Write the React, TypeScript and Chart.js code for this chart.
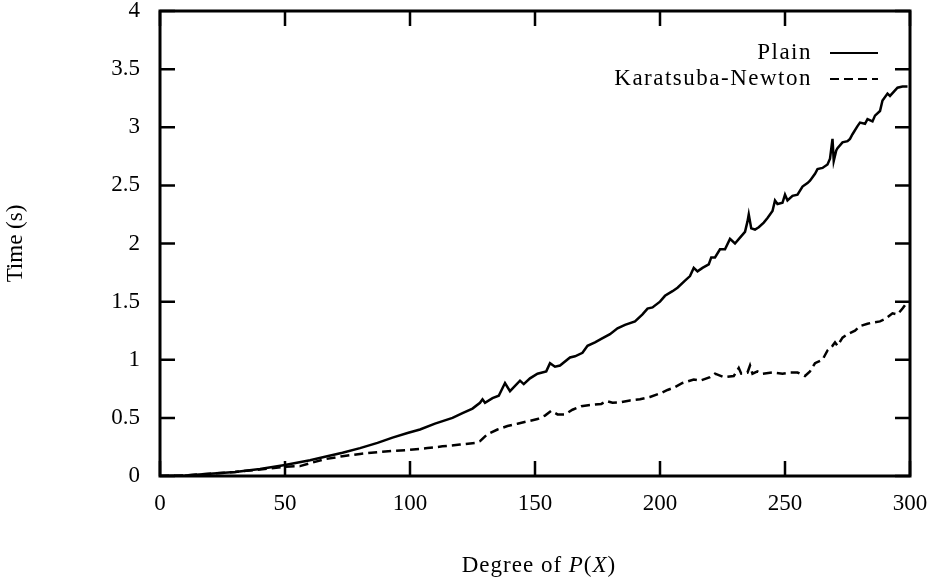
import React, { useEffect, useRef } from "react";
import { Chart, registerables } from "chart.js";

Chart.register(...registerables);

const plainDegree = [0, 10, 20, 30, 40, 50, 60, 66, 73, 80, 87, 93, 99, 104, 110, 117, 121, 125, 128, 129, 130, 133, 135.5, 138, 140, 144, 145.5, 148, 151, 154.5, 156, 158, 160, 164, 166, 169, 171, 174, 176.5, 180, 183, 186, 190, 193, 195, 197, 200, 202, 205, 207, 210, 212, 213.5, 215, 217, 219.5, 220.5, 222, 224, 226, 228, 230, 232, 234, 235, 235.5, 236.5, 238, 239.5, 241.5, 243, 245, 246, 247, 249, 250, 251, 253, 255, 257, 259, 260, 262, 263, 265, 267, 268, 269, 269.5, 270.5, 271, 273, 275, 276, 277, 279, 280, 282, 283, 285, 286, 288, 289, 291, 292, 295, 297, 299];
const plainTime = [0, 0.005, 0.02, 0.035, 0.06, 0.095, 0.135, 0.165, 0.2, 0.24, 0.285, 0.33, 0.37, 0.4, 0.45, 0.5, 0.54, 0.58, 0.63, 0.66, 0.63, 0.67, 0.69, 0.8, 0.73, 0.82, 0.79, 0.84, 0.88, 0.9, 0.97, 0.94, 0.95, 1.02, 1.03, 1.06, 1.12, 1.15, 1.18, 1.22, 1.27, 1.3, 1.33, 1.39, 1.44, 1.45, 1.5, 1.55, 1.59, 1.62, 1.68, 1.72, 1.79, 1.76, 1.79, 1.82, 1.88, 1.88, 1.95, 1.95, 2.04, 2.0, 2.05, 2.1, 2.19, 2.25, 2.13, 2.12, 2.14, 2.18, 2.22, 2.28, 2.37, 2.34, 2.35, 2.42, 2.37, 2.41, 2.42, 2.49, 2.52, 2.54, 2.6, 2.64, 2.65, 2.68, 2.73, 2.9, 2.71, 2.8, 2.82, 2.87, 2.88, 2.9, 2.94, 3.01, 3.04, 3.03, 3.07, 3.05, 3.1, 3.14, 3.23, 3.29, 3.27, 3.34, 3.35, 3.35];

const karatsubaDegree = [0, 10, 20, 30, 40, 50, 56, 60, 66, 73, 80, 87, 93, 100, 107, 113, 120, 126, 128, 131, 135, 139, 143, 147, 151, 154, 156.5, 159, 162, 165, 168.5, 172, 176.5, 178.7, 181, 184.5, 188, 192, 196, 200, 203, 205.6, 209, 213.5, 216, 220, 222, 225.5, 229.5, 231.5, 232.5, 235, 236, 237, 239, 241, 245, 249, 252, 255, 258, 260, 262, 265, 267, 269, 270, 271, 273, 275, 278, 280, 283, 285, 288, 290, 293, 295, 297, 299];
const karatsubaTime = [0, 0.005, 0.02, 0.035, 0.055, 0.08, 0.085, 0.11, 0.145, 0.17, 0.19, 0.205, 0.215, 0.225, 0.24, 0.255, 0.27, 0.285, 0.3, 0.36, 0.4, 0.43, 0.45, 0.47, 0.49, 0.52, 0.56, 0.53, 0.53, 0.57, 0.6, 0.61, 0.62, 0.645, 0.63, 0.635, 0.65, 0.66, 0.68, 0.71, 0.74, 0.76, 0.8, 0.83, 0.82, 0.85, 0.88, 0.85, 0.86, 0.93, 0.88, 0.89, 0.95, 0.88, 0.9, 0.88, 0.89, 0.88, 0.89, 0.89, 0.86, 0.9, 0.97, 1.0, 1.08, 1.12, 1.15, 1.12, 1.19, 1.22, 1.25, 1.29, 1.31, 1.32, 1.33, 1.35, 1.4, 1.39, 1.44, 1.5];

const xTicks = [0, 50, 100, 150, 200, 250, 300];
const xTickLabels = ["0", "50", "100", "150", "200", "250", "300"];
const yTicks = [0, 0.5, 1, 1.5, 2, 2.5, 3, 3.5, 4];
const yTickLabels = ["0", "0.5", "1", "1.5", "2", "2.5", "3", "3.5", "4"];
const seriesLabels = ["Plain", "Karatsuba-Newton"];
const yTitle = "Time (s)";
const xTitleParts = [
  { text: "Degree of ", italic: false },
  { text: "P", italic: true },
  { text: "(", italic: false },
  { text: "X", italic: true },
  { text: ")", italic: false },
];

const FONT = "'Liberation Serif', 'Times New Roman', serif";

const framePlugin = {
  id: "gnuFrame",
  afterDatasetsDraw(chart: any) {
    const { ctx, scales } = chart;
    const x = scales.x;
    const y = scales.y;
    const l = x.getPixelForValue(xTicks[0]);
    const r = x.getPixelForValue(xTicks[xTicks.length - 1]);
    const t = y.getPixelForValue(yTicks[yTicks.length - 1]);
    const b = y.getPixelForValue(yTicks[0]);
    ctx.save();
    ctx.strokeStyle = "#000";
    ctx.lineWidth = 3;
    ctx.setLineDash([]);
    ctx.strokeRect(l, t, r - l, b - t);
    ctx.lineWidth = 2.5;
    ctx.beginPath();
    for (const v of xTicks) {
      const px = x.getPixelForValue(v);
      ctx.moveTo(px, b);
      ctx.lineTo(px, b - 15);
      ctx.moveTo(px, t);
      ctx.lineTo(px, t + 15);
    }
    for (const v of yTicks) {
      const py = y.getPixelForValue(v);
      ctx.moveTo(l, py);
      ctx.lineTo(l + 15, py);
      ctx.moveTo(r, py);
      ctx.lineTo(r - 15, py);
    }
    ctx.stroke();

    // legend
    ctx.fillStyle = "#000";
    ctx.font = `23px ${FONT}`;
    (ctx as any).letterSpacing = "1.5px";
    ctx.textAlign = "right";
    ctx.textBaseline = "middle";
    chart.data.datasets.forEach((ds: any, i: number) => {
      const ly = t + 42 + i * 26;
      ctx.fillText(ds.label, r - 98, ly);
      ctx.save();
      ctx.lineWidth = 2;
      ctx.setLineDash(ds.borderDash || []);
      ctx.beginPath();
      ctx.moveTo(r - 80, ly);
      ctx.lineTo(r - 32, ly);
      ctx.stroke();
      ctx.restore();
    });

    // x title with italic parts
    (ctx as any).letterSpacing = "1px";
    ctx.textAlign = "left";
    const fonts = xTitleParts.map((p) => (p.italic ? `italic 23px ${FONT}` : `23px ${FONT}`));
    let total = 0;
    const widths = xTitleParts.map((p, i) => {
      ctx.font = fonts[i];
      const w = ctx.measureText(p.text).width;
      total += w;
      return w;
    });
    let cx = (l + r) / 2 + 4 - total / 2;
    const ty = chart.height - 15;
    xTitleParts.forEach((p, i) => {
      ctx.font = fonts[i];
      ctx.fillText(p.text, cx, ty);
      cx += widths[i];
    });
    ctx.restore();
  },
};

export default function App() {
  const ref = useRef<HTMLCanvasElement | null>(null);
  useEffect(() => {
    if (!ref.current) return;
    const chart = new Chart(ref.current, {
      type: "line",
      data: {
        datasets: [
          {
            label: seriesLabels[0],
            data: plainDegree.map((d, i) => ({ x: d, y: plainTime[i] })),
            borderColor: "#000",
            borderWidth: 2.5,
            pointRadius: 0,
            tension: 0,
            fill: false,
          },
          {
            label: seriesLabels[1],
            data: karatsubaDegree.map((d, i) => ({ x: d, y: karatsubaTime[i] })),
            borderColor: "#000",
            borderWidth: 2.5,
            borderDash: [9, 5],
            pointRadius: 0,
            tension: 0,
            fill: false,
          },
        ],
      },
      options: {
        responsive: false,
        animation: false,
        layout: { padding: { left: 0, right: 33, top: 11, bottom: 0 } },
        plugins: { legend: { display: false }, tooltip: { enabled: false } },
        scales: {
          x: {
            type: "linear",
            min: 0,
            max: 300,
            afterBuildTicks: (s: any) => {
              s.ticks = xTicks.map((v) => ({ value: v }));
            },
            ticks: {
              color: "#000",
              font: { family: FONT, size: 23 },
              padding: 14,
              maxRotation: 0,
              callback: (v: any) => {
                const i = xTicks.indexOf(Number(v));
                return i >= 0 ? xTickLabels[i] : "";
              },
            },
            grid: { display: false, drawTicks: false },
            border: { display: false },
            afterFit: (s: any) => {
              s.height = 105;
              s.paddingLeft = 0;
              s.paddingRight = 0;
            },
          },
          y: {
            type: "linear",
            min: 0,
            max: 4,
            afterBuildTicks: (s: any) => {
              s.ticks = yTicks.map((v) => ({ value: v }));
            },
            ticks: {
              color: "#000",
              font: { family: FONT, size: 23 },
              padding: 20,
              callback: (v: any) => {
                const i = yTicks.indexOf(Number(v));
                return i >= 0 ? yTickLabels[i] : "";
              },
            },
            grid: { display: false, drawTicks: false },
            border: { display: false },
            title: {
              display: true,
              text: yTitle,
              color: "#000",
              font: { family: FONT, size: 23 },
              padding: { top: 2, bottom: 0 },
            },
            afterFit: (s: any) => {
              s.width = 160;
              s.paddingTop = 0;
              s.paddingBottom = 0;
            },
          },
        },
      },
      plugins: [framePlugin],
    });
    return () => chart.destroy();
  }, []);
  return (
    <div style={{ position: "fixed", left: 0, top: 0, width: 943, height: 581, background: "#fff" }}>
      <canvas ref={ref} width={943} height={581} style={{ display: "block" }} />
    </div>
  );
}
